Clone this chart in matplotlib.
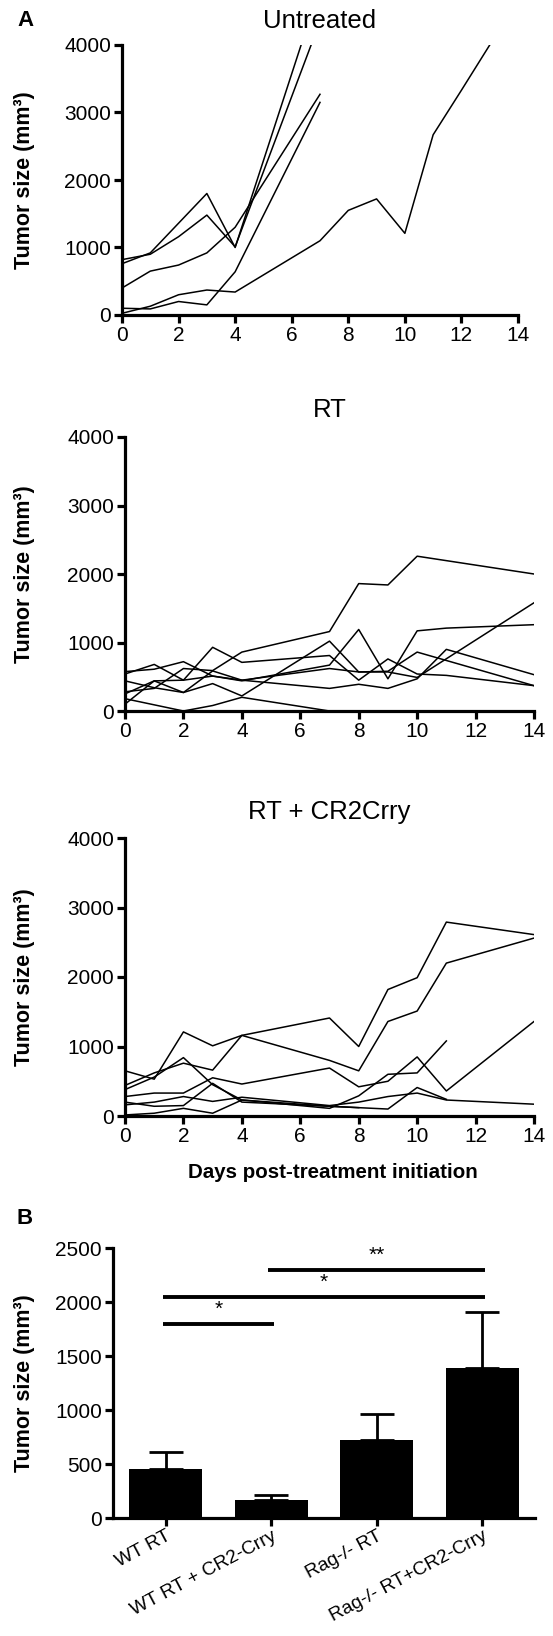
import matplotlib
matplotlib.use("Agg")
import matplotlib.pyplot as plt

plt.rcParams['font.family'] = ['Liberation Sans', 'DejaVu Sans']

# ---------------- data ----------------
untreated_days = [
    [0, 1, 2, 3, 4, 7],
    [0, 1, 2, 3, 4, 7],
    [0, 1, 2, 3, 4, 7],
    [0, 1, 2, 3, 4, 7],
    [0, 1, 2, 3, 4, 7, 8, 9, 10, 11, 12, 13],
]
untreated_sizes = [
    [760, 920, 1360, 1800, 1000, 4860],
    [820, 900, 1160, 1480, 1010, 4350],
    [400, 650, 740, 920, 1300, 3270],
    [100, 90, 200, 150, 640, 3150],
    [25, 130, 300, 370, 340, 1100, 1550, 1720, 1210, 2670, 3330, 4000],
]

rt_days = [
    [0, 1, 2, 3, 4, 7, 8, 9, 10, 14],
    [0, 1, 2, 3, 4, 7, 8, 9, 10, 11, 14],
    [0, 1, 2, 3, 4, 7, 8, 9, 10, 14],
    [0, 1, 2, 3, 4, 7, 8, 9, 10, 11, 14],
    [0, 1, 2, 3, 4, 7, 8, 9, 10, 14],
    [0, 1, 2, 3, 4, 7, 8, 9, 10, 11, 14],
    [0, 2, 3, 4, 7],
]
rt_sizes = [
    [280, 330, 620, 590, 860, 1160, 1860, 1840, 2260, 2000],
    [540, 680, 450, 930, 710, 810, 450, 760, 540, 520, 370],
    [100, 440, 270, 400, 220, 1020, 570, 580, 860, 370],
    [575, 610, 720, 510, 440, 670, 1190, 470, 1170, 1210, 1260],
    [440, 340, 270, 585, 450, 620, 570, 570, 490, 1580],
    [250, 440, 450, 510, 450, 330, 390, 330, 470, 900, 530],
    [180, 0, 80, 200, 0],
]

cr2_days = [
    [0, 1, 2, 3, 4, 7, 8, 9, 10, 11, 14],
    [0, 1, 2, 3, 4, 7, 8, 9, 10, 11, 14],
    [0, 1, 2, 3, 4, 7, 8, 9, 10, 11],
    [0, 1, 2, 3, 4, 7, 8, 9, 10, 11, 14],
    [0, 1, 2, 3, 4, 7, 8, 9, 10, 11, 14],
    [0, 1, 2, 3, 4, 7, 8, 9, 10, 11],
    [0, 1, 2, 3, 4, 7, 8],
]
cr2_sizes = [
    [650, 530, 1210, 1010, 1160, 1410, 1000, 1820, 1990, 2790, 2610],
    [440, 620, 760, 660, 1160, 800, 650, 1360, 1510, 2200, 2560],
    [380, 560, 840, 450, 230, 110, 290, 600, 620, 1080],
    [280, 330, 330, 550, 460, 690, 420, 500, 850, 360, 1360],
    [160, 200, 280, 210, 270, 150, 200, 280, 330, 230, 170],
    [15, 40, 110, 40, 230, 140, 120, 100, 410, 240],
    [200, 140, 150, 470, 200, 140, 120],
]

panel_titles = ["Untreated", "RT", "RT + CR2Crry"]
line_xticks = [0, 2, 4, 6, 8, 10, 12, 14]
line_yticks = [0, 1000, 2000, 3000, 4000]

bar_groups = ["WT RT", "WT RT + CR2-Crry", "Rag-/- RT", "Rag-/- RT+CR2-Crry"]
bar_means = [453, 166, 719, 1390]
bar_sem = [157, 51, 248, 522]
bar_yticks = [0, 500, 1000, 1500, 2000, 2500]
sig_pairs = [(0, 1), (0, 3), (1, 3)]
sig_levels = [1800, 2050, 2300]
sig_labels = ["*", "*", "**"]

# ---------------- layout ----------------
W, H = 553, 1636
fig = plt.figure(figsize=(W / 100, H / 100), dpi=100)


def rect(l, r, t, b):
    return [l / W, 1 - b / H, (r - l) / W, (b - t) / H]


def fx(px):
    return px / W


def fy(py):
    return 1 - py / H


SPW = 2.3
YLAB = "Tumor size (mm³)"


def style(ax):
    for s in ["top", "right"]:
        ax.spines[s].set_visible(False)
    for s in ["left", "bottom"]:
        ax.spines[s].set_linewidth(SPW)
    ax.tick_params(width=SPW, length=6, labelsize=15, pad=2, direction="out")


rects = [rect(122, 518, 45, 315), rect(125, 534, 437, 711), rect(125, 534, 838, 1116)]
title_y = [21, 410, 812]
all_days = [untreated_days, rt_days, cr2_days]
all_sizes = [untreated_sizes, rt_sizes, cr2_sizes]

for i in range(3):
    ax = fig.add_axes(rects[i])
    for d, v in zip(all_days[i], all_sizes[i]):
        ax.plot(d, v, color="black", lw=1.1)
    ax.set_xlim(0, 14)
    ax.set_ylim(0, 4000)
    ax.set_xticks(line_xticks)
    ax.set_yticks(line_yticks)
    style(ax)
    r = rects[i]
    cx = r[0] + r[2] / 2
    fig.text(cx, fy(title_y[i]), panel_titles[i], ha="center", va="center", fontsize=18.5)
    fig.text(fx(25), r[1] + r[3] / 2, YLAB, rotation=90, ha="center",
             va="center", fontsize=15.5, fontweight="bold")

fig.text(fx(333), fy(1172), "Days post-treatment initiation", ha="center", va="center",
         fontsize=14.8, fontweight="bold")
fig.text(fx(25), fy(20), "A", ha="center", va="center", fontsize=16, fontweight="bold")
fig.text(fx(25), fy(1218), "B", ha="center", va="center", fontsize=16, fontweight="bold")

# ---------------- bar panel ----------------
brect = rect(113, 535, 1248, 1518)
axb = fig.add_axes(brect)
xs = list(range(len(bar_groups)))
axb.bar(xs, bar_means, width=0.69, color="black", zorder=2)
axb.errorbar(xs, bar_means, yerr=[[0] * len(xs), bar_sem], fmt="none", ecolor="black",
             elinewidth=2.0, capsize=12, capthick=2.0, zorder=3)
for (a, b), lvl, lab in zip(sig_pairs, sig_levels, sig_labels):
    axb.plot([a - 0.03, b + 0.03], [lvl, lvl], color="black", lw=2.8, solid_capstyle="butt")
    axb.text((a + b) / 2, lvl + 40, lab, ha="center", va="bottom", fontsize=15)
axb.set_xlim(-0.5, 3.5)
axb.set_ylim(0, 2500)
axb.set_yticks(bar_yticks)
axb.set_xticks(xs)
axb.set_xticklabels(bar_groups, rotation=28, ha="right", rotation_mode="anchor")
style(axb)
axb.tick_params(axis="x", pad=1, labelsize=13.8)
fig.text(fx(25), brect[1] + brect[3] / 2, YLAB, rotation=90, ha="center",
         va="center", fontsize=15.5, fontweight="bold")

fig.savefig("out.png", dpi=100)
